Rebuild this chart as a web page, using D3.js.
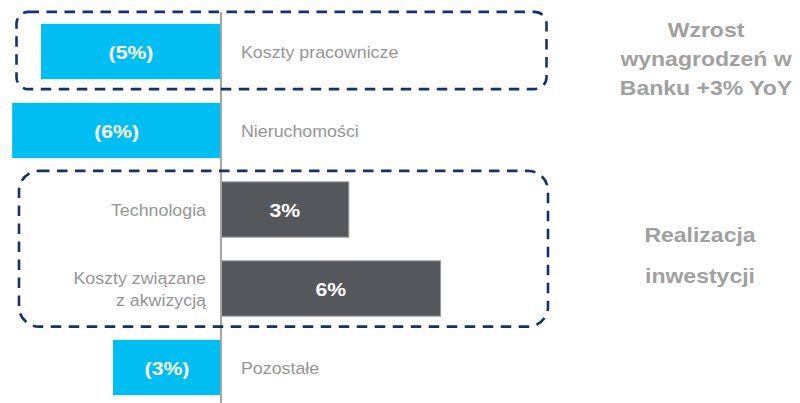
<!DOCTYPE html>
<html><head><meta charset="utf-8">
<script src="https://cdn.jsdelivr.net/npm/d3@7"></script>
<style>html,body{margin:0;padding:0;background:#fff;overflow:hidden}</style>
</head><body><svg id="c" width="800" height="403"></svg>
<script>
// ---- data ----
const categories = ["Koszty pracownicze", "Nieruchomości", "Technologia", "Koszty związane\nz akwizycją", "Pozostałe"];
const values = [-5.0, -5.8, 3.55, 6.1, -3.0];
const valueLabels = ["(5%)", "(6%)", "3%", "6%", "(3%)"];
const groupSalary = [categories[0]];
const groupInvest = [categories[2], categories[3]];
const noteSalary = ["Wzrost", "wynagrodzeń w", "Banku +3% YoY"];
const noteInvest = ["Realizacja", "inwestycji"];

// ---- drawing ----
const svg = d3.select("#c");
const FONT = "'Liberation Sans', Arial, Helvetica, sans-serif";
const STRETCH = 1.18;
const LABEL_STRETCH = 1.08;
const x = d3.scaleLinear().domain([-6, 6]).range([5, 437]);
const y = d3.scaleBand().domain(categories).range([12, 407]).paddingInner(0.3).paddingOuter(0.15);
const bw = y.bandwidth();
const BLUE = "#00BEF2", DARK = "#54575C", NAVY = "#12326E";

const rows = categories.map((c, i) => ({c, v: values[i], lab: valueLabels[i]}));

// bars
svg.append("g").selectAll("rect").data(rows).join("rect")
  .attr("x", d => x(Math.min(0, d.v)))
  .attr("y", d => y(d.c))
  .attr("width", d => Math.abs(x(d.v) - x(0)))
  .attr("height", bw)
  .attr("fill", d => d.v < 0 ? BLUE : DARK)
  .attr("stroke", d => d.v < 0 ? "none" : "#9a9c9f")
  .attr("stroke-width", 1);

// zero axis
svg.append("line")
  .attr("x1", x(0)).attr("x2", x(0))
  .attr("y1", 12).attr("y2", 403)
  .attr("stroke", "#a4a4a4").attr("stroke-width", 2);

// dashed group boxes
function groupBox(cats, x0, x1, padTop, padBot, r) {
  const top = y(cats[0]) - padTop;
  const bot = y(cats[cats.length - 1]) + bw + padBot;
  svg.append("rect")
    .attr("x", x0).attr("y", top).attr("width", x1 - x0).attr("height", bot - top)
    .attr("rx", r).attr("ry", r)
    .attr("fill", "none").attr("stroke", NAVY).attr("stroke-width", 2.6)
    .attr("stroke-dasharray", "10.5,7.5");
}
groupBox(groupSalary, 16.5, 546.5, 12, 10, 12);
groupBox(groupInvest, 19, 548, 11, 10.5, 20);

// value labels in bars
svg.append("g").selectAll("text").data(rows).join("text")
  .attr("transform", d => `translate(${(x(d.v) + x(0)) / 2},${y(d.c) + bw / 2}) scale(${STRETCH},1)`)
  .attr("text-anchor", "middle")
  .attr("dy", "0.42em")
  .attr("font-family", FONT).attr("font-weight", "bold").attr("font-size", 18)
  .attr("fill", "#fff")
  .text(d => d.lab);

// category labels
const cl = svg.append("g").selectAll("text").data(rows).join("text")
  .attr("transform", d => `translate(${d.v < 0 ? x(0) + 20 : x(0) - 15},${y(d.c) + bw / 2}) scale(${LABEL_STRETCH},1)`)
  .attr("text-anchor", d => d.v < 0 ? "start" : "end")
  .attr("font-family", FONT).attr("font-size", 16.5)
  .attr("fill", "#959595");
cl.each(function(d) {
  const lines = d.c.split("\n");
  const lh = 22.5;
  const t = d3.select(this);
  lines.forEach((ln, i) => {
    t.append("tspan").attr("x", 0)
      .attr("y", (i - (lines.length - 1) / 2) * lh)
      .attr("dy", "0.40em")
      .text(ln);
  });
});

// side notes
function note(lines, cx, y0, lh) {
  lines.forEach((ln, i) => {
    svg.append("text")
      .attr("transform", `translate(${cx},${y0 + i * lh}) scale(${STRETCH},1)`)
      .attr("text-anchor", "middle")
      .attr("font-family", FONT).attr("font-weight", "bold").attr("font-size", 19.5)
      .attr("fill", "#a0a0a0")
      .text(ln);
  });
}
note(noteSalary, 706, 37, 29);
note(noteInvest, 700, 242, 41);
</script>
</body></html>
